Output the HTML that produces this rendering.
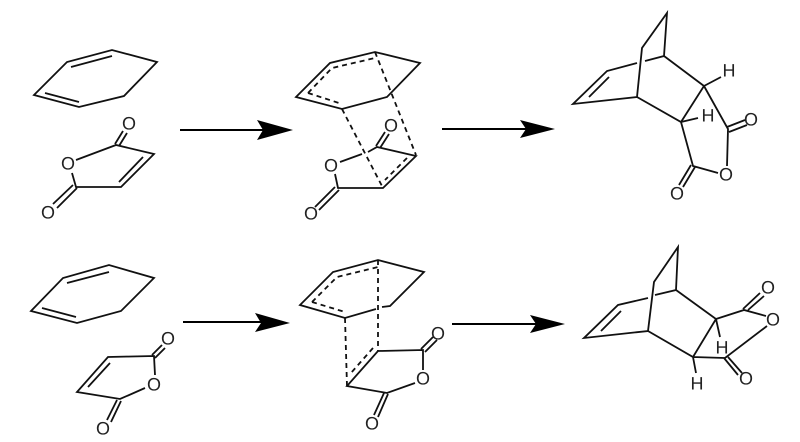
<!DOCTYPE html>
<html><head><meta charset="utf-8"><style>
html,body{margin:0;padding:0;background:#fff}
svg{display:block;filter:blur(0.35px)}
text{font-family:"Liberation Sans",sans-serif;font-size:18px;fill:#222;text-anchor:middle;text-rendering:geometricPrecision}
.b{fill:none;stroke:#111;stroke-width:1.8;stroke-linejoin:miter;stroke-linecap:butt}
.d{fill:none;stroke:#111;stroke-width:1.8;stroke-dasharray:5 4}
.a{fill:none;stroke:#000;stroke-width:1.9}
.h{fill:#000;stroke:none}
</style></head><body>
<svg width="800" height="442" viewBox="0 0 800 442" xmlns="http://www.w3.org/2000/svg">
<!-- Panel 1 -->
<path class="b" d="M34 95L67 62L112 50L157 62L124 96L79 107Z M71 67L112 56 M45 93L79 102"/>
<path class="b" d="M76 160L116 145L154 154L121 187L76 187L72 173 M143 157L119 182 M115 144L123 131 M119 146L127 133 M73 185L53 204 M77 188L57 208"/>
<text x="68" y="169.500">O</text><text x="129" y="129.500">O</text><text x="48" y="218.500">O</text>
<!-- Arrow 1 -->
<path class="a" d="M180 130H265"/><path class="h" d="M293 130L257 120L263 130L257 140Z"/>
<!-- Panel 2 -->
<path class="b" d="M296 97L330 63L375 52L420 63L387 97L342 109Z"/>
<path class="d" d="M308 93L332 68L375 58 M308 93L342 104 M375 52L416 155 M342 109L383 188 M407 158L385 180"/>
<path class="b" d="M340 162L362 154 M368 152L377 147L416 156L383 188L338 188L335 174 M376 146L385 132 M380 148L389 134 M335 187L315 207 M339 190L319 210"/>
<text x="331" y="171.500">O</text><text x="391" y="131.500">O</text><text x="311" y="219.500">O</text>
<!-- Arrow 2 -->
<path class="a" d="M442 129H527"/><path class="h" d="M555 129L520 120L526 129L520 138Z"/>
<!-- Panel 3 -->
<path class="b" d="M637 63L607 71L573 104L637 97L642 48L667 13L664 56L645 61 M609 77L589 97 M664 56L704 86L681 122L637 97 M704 86L721 77 M681 122L698 118 M704 86L728 129L727 166 M681 122L693 166L718 173 M727 127L745 120 M729 132L747 125 M691 165L679 185 M695 167L683 187"/>
<text x="726" y="180.500">O</text><text x="751" y="125.500">O</text><text x="677" y="199.500">O</text><text x="729" y="76.500">H</text><text x="708" y="121.500">H</text>
<!-- Panel 4 -->
<path class="b" d="M31 311L63 278L109 265L154 278L121 311L77 323Z M67 283L109 272 M42 308L76 317"/>
<path class="b" d="M155 375L154 356L108 357L77 392L120 399L145 388 M110 363L88 387 M152 355L162 345 M155 358L165 348 M117 400L107 420 M121 401L111 422"/>
<text x="154" y="390.500">O</text><text x="168" y="344.500">O</text><text x="103" y="434.500">O</text>
<!-- Arrow 3 -->
<path class="a" d="M183 322H262"/><path class="h" d="M290 323L255 313L261 323L255 332Z"/>
<!-- Panel 5 -->
<path class="b" d="M376 309L345 318L300 305L333 272L378 260L424 272L390 306L382 307"/>
<path class="d" d="M312 302L337 277L378 267 M312 302L345 312 M378 260L378 351 M345 318L347 386 M373 348L351 373"/>
<path class="b" d="M423 370L423 350L378 351L347 386L387 393L415 383 M421 349L433 337 M425 352L437 340 M384 393L374 415 M388 394L378 417"/>
<text x="423" y="384.500">O</text><text x="438" y="339.500">O</text><text x="372" y="429.500">O</text>
<!-- Arrow 4 -->
<path class="a" d="M452 324H537"/><path class="h" d="M565 324L530 315L536 324L530 333Z"/>
<!-- Panel 6 -->
<path class="b" d="M648 298L618 305L584 338L648 331L654 282L678 247L676 290L655 295 M621 311L601 331 M676 290L716 319L693 357L648 331 M716 319L744 310L766 316 M767 326L725 358L693 357 M716 319L720 337 M693 357L696 373 M743 309L760 293 M748 310L764 296 M724 358L738 375 M728 357L742 373"/>
<text x="773" y="325.500">O</text><text x="768" y="293.500">O</text><text x="746" y="384.500">O</text><text x="722" y="353.500">H</text><text x="697" y="389.500">H</text>
</svg>
</body></html>
